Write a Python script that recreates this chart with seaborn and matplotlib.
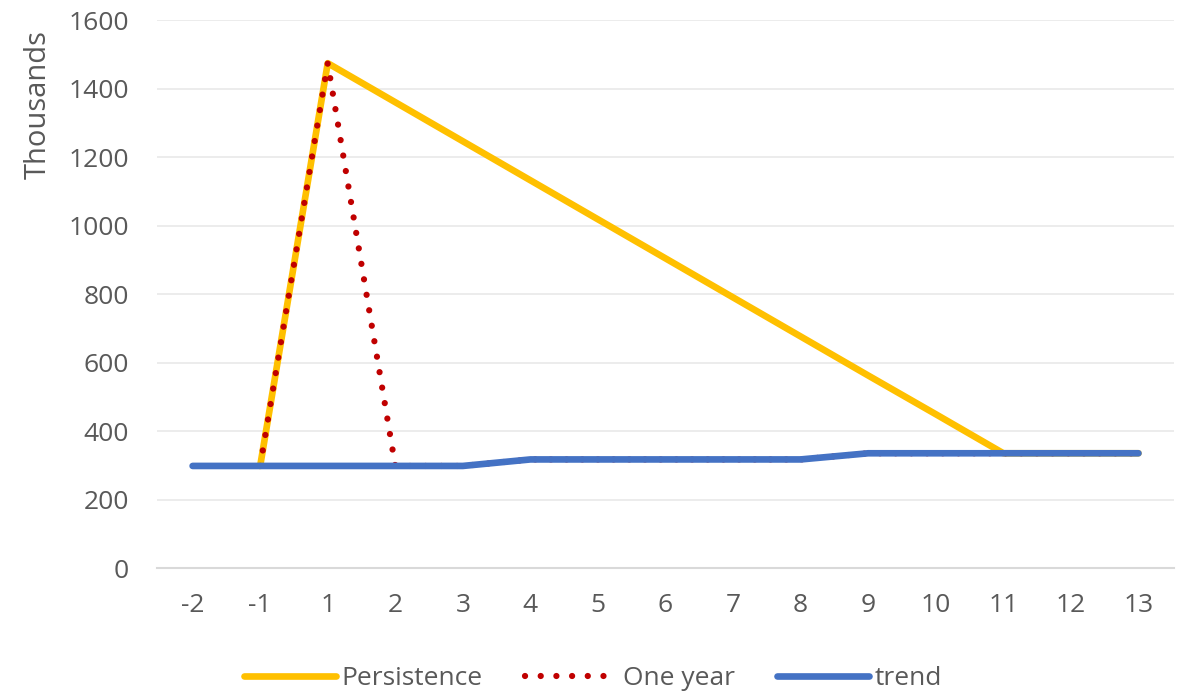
import pandas as pd
import numpy as np
import seaborn as sns
import matplotlib
matplotlib.use('Agg')
import matplotlib.pyplot as plt

# categories on the x axis (no year 0)
periods = ['-2', '-1', '1', '2', '3', '4', '5', '6', '7', '8', '9', '10', '11', '12', '13']

trend = [298, 298, 298, 298, 298, 317, 317, 317, 317, 317, 335, 335, 335, 335, 335]
persistence = [np.nan, 298, 1474, 1360, 1246, 1132, 1018, 904, 790, 676, 562, 449, 335, 335, 335]
one_year = [np.nan, 298, 1474, 298, 298, 317, 317, 317, 317, 317, 335, 335, 335, 335, 335]

series_names = ['Persistence', 'One year', 'trend']
series_colors = ['#FFC000', '#C00000', '#4472C4']

df = pd.DataFrame({'period': periods, 'Persistence': persistence,
                   'One year': one_year, 'trend': trend})
df['pos'] = range(len(periods))

sns.set_theme(style='white')
plt.rcParams['font.family'] = ['Open Sans', 'DejaVu Sans']

fig, ax = plt.subplots(figsize=(11.79, 6.91), dpi=100)
fig.subplots_adjust(left=0.133, right=0.996, top=0.971, bottom=0.178)

for name, color in zip(series_names, series_colors):
    sub = df[['pos', name]].dropna()
    if name == 'One year':
        sns.lineplot(data=sub, x='pos', y=name, ax=ax, color=color, lw=4.5,
                     linestyle=(0, (0.01, 2.5)), dash_capstyle='round',
                     label=name, sort=False)
    else:
        sns.lineplot(data=sub, x='pos', y=name, ax=ax, color=color, lw=4.8,
                     solid_capstyle='round', label=name, sort=False)

ax.set_xlim(-0.53, len(periods) - 0.47)
ax.set_ylim(0, 1600)
ax.set_yticks(range(0, 1601, 200))
ax.set_xticks(df['pos'])
ax.set_xticklabels(periods)
ax.set_xlabel('')
ax.set_ylabel('Thousands', fontsize=21, color='#595959')
ax.yaxis.set_label_coords(-0.102, 0.845)
ax.tick_params(axis='both', labelsize=19, colors='#595959', length=0)
ax.tick_params(axis='y', pad=20)
ax.tick_params(axis='x', pad=18)
ax.yaxis.grid(True, color='#EBEBEB', lw=1.3)
ax.set_axisbelow(True)
for side in ['top', 'right', 'left']:
    ax.spines[side].set_visible(False)
ax.spines['bottom'].set_color('#D9D9D9')
ax.spines['bottom'].set_linewidth(1.5)

ax.get_legend().remove()
handles, labels = ax.get_legend_handles_labels()
leg = fig.legend(handles, labels, loc='center', bbox_to_anchor=(0.503, 0.018),
                 ncol=3, frameon=False, fontsize=19, handlelength=3.5,
                 handletextpad=0.2, columnspacing=1.6)
for t in leg.get_texts():
    t.set_color('#595959')

fig.savefig('out.png', dpi=100)
